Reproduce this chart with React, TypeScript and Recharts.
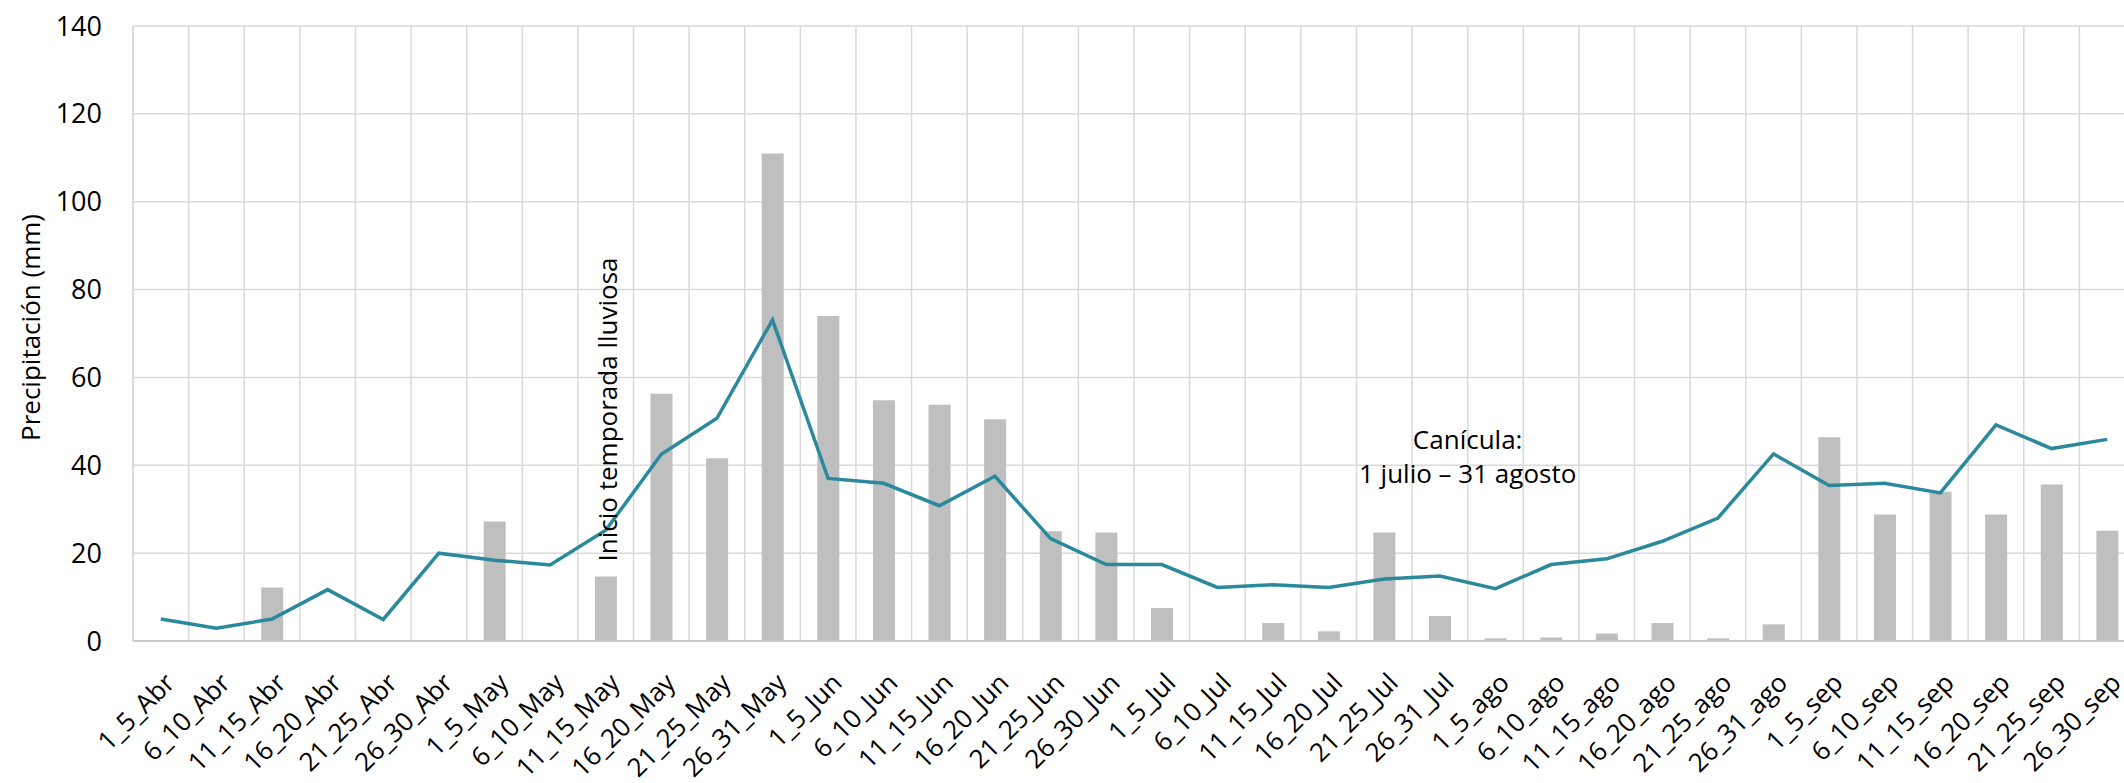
import React from 'react';
import {
  ComposedChart,
  Bar,
  Line,
  XAxis,
  YAxis,
  CartesianGrid,
  ReferenceDot,
} from 'recharts';

const periods = [
  '1_5_Abr', '6_10_Abr', '11_15_Abr', '16_20_Abr', '21_25_Abr', '26_30_Abr',
  '1_5_May', '6_10_May', '11_15_May', '16_20_May', '21_25_May', '26_31_May',
  '1_5_Jun', '6_10_Jun', '11_15_Jun', '16_20_Jun', '21_25_Jun', '26_30_Jun',
  '1_5_Jul', '6_10_Jul', '11_15_Jul', '16_20_Jul', '21_25_Jul', '26_31_Jul',
  '1_5_ago', '6_10_ago', '11_15_ago', '16_20_ago', '21_25_ago', '26_31_ago',
  '1_5_sep', '6_10_sep', '11_15_sep', '16_20_sep', '21_25_sep', '26_30_sep',
];

// barras grises: precipitación del periodo
const precipitacion = [
  0, 0, 12.2, 0, 0, 0,
  27.2, 0, 14.7, 56.3, 41.6, 111.0,
  74.0, 54.8, 53.8, 50.5, 25.0, 24.7,
  7.5, 0, 4.1, 2.2, 24.7, 5.7,
  0.6, 0.8, 1.7, 4.1, 0.6, 3.8,
  46.4, 28.8, 34.0, 28.8, 35.6, 25.1,
];

// línea: promedio histórico
const promedio = [
  5.0, 2.9, 5.0, 11.7, 4.9, 20.0,
  18.4, 17.3, 25.2, 42.5, 50.7, 73.1,
  37.0, 35.9, 30.8, 37.5, 23.3, 17.4,
  17.4, 12.2, 12.8, 12.2, 14.1, 14.8,
  11.9, 17.4, 18.7, 22.7, 28.0, 42.6,
  35.4, 35.9, 33.7, 49.2, 43.8, 45.9,
];

const yTicks = [0, 20, 40, 60, 80, 100, 120, 140];

const inicioPeriodo = '11_15_May';
const caniculaPeriodo = '26_31_Jul';
const caniculaNivel = 42;

const FONT = '"Open Sans", sans-serif';
const GRID = '#d9d9d9';

const data = periods.map((p, i) => ({
  periodo: p,
  precipitacion: precipitacion[i],
  promedio: promedio[i],
}));

const XTick = (props: any) => {
  const { x, y, payload } = props;
  const ax = x + 9;
  const ay = y + 37;
  return (
    <text
      x={ax}
      y={ay}
      dy="0.35em"
      textAnchor="end"
      transform={`rotate(-45 ${ax} ${ay})`}
      fontSize={26}
      fontFamily={FONT}
      fill="#000"
    >
      {payload.value}
    </text>
  );
};

const inicioLabel = (props: any) => {
  const vb = props.viewBox || {};
  const x = vb.x ?? vb.cx;
  const y = (vb.y ?? vb.cy) - 15;
  return (
    <text
      x={x}
      y={y}
      dy="0.42em"
      transform={`rotate(-90 ${x} ${y})`}
      fontSize={26}
      fontFamily={FONT}
      fill="#000"
    >
      Inicio temporada lluviosa
    </text>
  );
};

const caniculaLabel = (props: any) => {
  const vb = props.viewBox || {};
  const x = (vb.x ?? vb.cx) + 27.8;
  const y = vb.y ?? vb.cy;
  return (
    <text textAnchor="middle" fontSize={26} fontFamily={FONT} fill="#000">
      <tspan x={x} y={y - 8}>Canícula:</tspan>
      <tspan x={x} y={y + 26}>1 julio – 31 agosto</tspan>
    </text>
  );
};

const yTitle = (props: any) => {
  const vb = props.viewBox || {};
  const x = 31;
  const y = vb.y + vb.height / 2 - 6;
  return (
    <text
      x={x}
      y={y}
      dy="0.35em"
      textAnchor="middle"
      transform={`rotate(-90 ${x} ${y})`}
      fontSize={26}
      fontFamily={FONT}
      fill="#000"
    >
      Precipitación (mm)
    </text>
  );
};

const verticalLines = (props: any) => {
  const left = props?.offset?.left ?? 133;
  const width = props?.offset?.width ?? 2002;
  return Array.from({ length: periods.length + 1 }, (_, i) => left + (i * width) / periods.length);
};

export default function App() {
  return (
    <div
      style={{
        position: 'fixed',
        left: 0,
        top: 0,
        width: 2124,
        height: 783,
        overflow: 'hidden',
        background: '#fff',
      }}
    >
      <ComposedChart
        width={2140}
        height={783}
        data={data}
        margin={{ top: 26, right: 5, bottom: 0, left: 0 }}
      >
        <CartesianGrid
          stroke={GRID}
          strokeWidth={1.5}
          verticalCoordinatesGenerator={verticalLines}
        />
        <XAxis
          dataKey="periodo"
          interval={0}
          height={142}
          tickLine={false}
          tickSize={0}
          tickMargin={0}
          axisLine={{ stroke: '#c8c8c8', strokeWidth: 2 }}
          tick={<XTick />}
        />
        <YAxis
          width={133}
          domain={[0, 140]}
          ticks={yTicks}
          interval={0}
          tickLine={false}
          tickSize={0}
          tickMargin={31}
          axisLine={{ stroke: GRID, strokeWidth: 1.5 }}
          tick={{ fontSize: 27, fontFamily: FONT, fill: '#000' }}
          label={{ content: yTitle }}
        />
        <Bar
          dataKey="precipitacion"
          fill="#bfbfbf"
          barSize={22}
          isAnimationActive={false}
        />
        <Line
          type="linear"
          dataKey="promedio"
          stroke="#2b899c"
          strokeWidth={3.5}
          dot={false}
          activeDot={false}
          isAnimationActive={false}
        />
        <ReferenceDot
          x={inicioPeriodo}
          y={precipitacion[periods.indexOf(inicioPeriodo)]}
          r={0}
          fill="none"
          stroke="none"
          label={{ content: inicioLabel }}
        />
        <ReferenceDot
          x={caniculaPeriodo}
          y={caniculaNivel}
          r={0}
          fill="none"
          stroke="none"
          label={{ content: caniculaLabel }}
        />
      </ComposedChart>
    </div>
  );
}
